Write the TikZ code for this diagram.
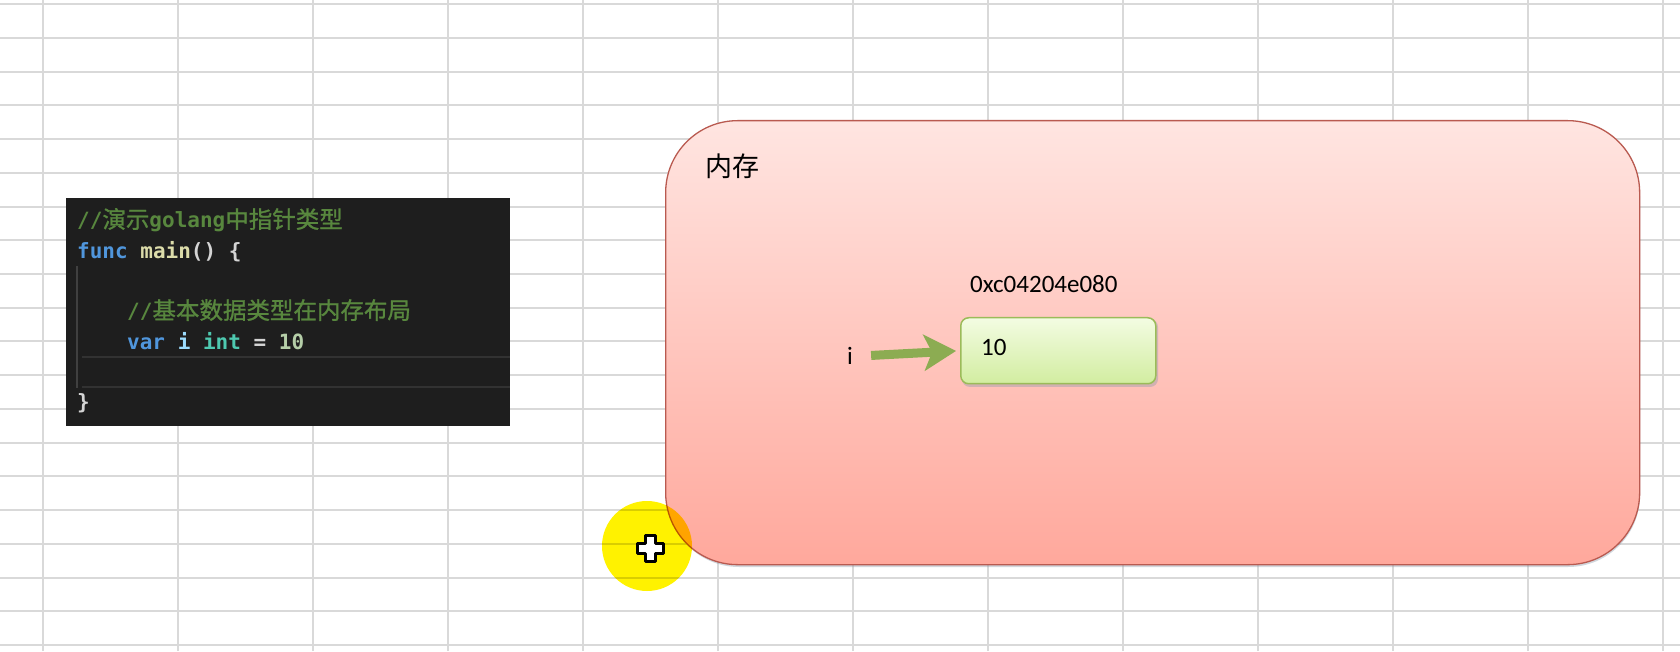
\documentclass[tikz,border=0pt]{standalone}
\usepackage{fontspec}
\setmainfont{Carlito}
\newfontfamily\cjk{Noto Sans CJK SC}
\newfontfamily\cjkb{Noto Sans CJK SC}[FakeBold=1.2]
\newfontfamily\codefont{DejaVu Sans Mono Bold}
\usetikzlibrary{arrows.meta}
\definecolor{gridc}{RGB}{217,217,217}
\definecolor{memtop}{RGB}{255,229,225}
\definecolor{membot}{RGB}{255,168,156}
\definecolor{memborder}{RGB}{185,90,80}
\definecolor{shadowc}{RGB}{140,155,170}
\definecolor{valtop}{RGB}{243,252,226}
\definecolor{valbot}{RGB}{210,237,160}
\definecolor{valborder}{RGB}{155,187,89}
\definecolor{arrowgreen}{RGB}{140,172,82}
\definecolor{codebg}{RGB}{30,30,30}
\definecolor{cmt}{RGB}{88,135,62}
\definecolor{kw}{RGB}{80,150,220}
\definecolor{fn}{RGB}{220,220,170}
\definecolor{varc}{RGB}{156,220,254}
\definecolor{typ}{RGB}{78,201,176}
\definecolor{num}{RGB}{181,206,168}
\definecolor{pun}{RGB}{212,212,212}
\definecolor{hlyellow}{RGB}{255,242,0}
\definecolor{guidec}{RGB}{64,64,64}
\definecolor{curlinec}{RGB}{50,50,50}
\newcommand\cjkc{\cjkb\fontsize{23.5}{23.5}\selectfont}
\tikzset{
  gridline/.style={draw=gridc, line width=2},
  codetxt/.style={anchor=base west, inner sep=0, font=\codefont\fontsize{21}{21}\selectfont},
  memtxt/.style={anchor=base west, inner sep=0, font=\fontsize{25}{25}\selectfont},
  ptr/.style={draw=arrowgreen, line width=9, -{Stealth[length=32, width=36, inset=8]}},
  cursor/.style={draw=black, fill=white, line width=3, line join=round},
}
\begin{document}
\begin{tikzpicture}[x=1pt, y=1pt]
\useasboundingbox (0,0) rectangle (1680,651);
\fill[white] (0,0) rectangle (1680,651);
% spreadsheet grid
\foreach \k in {0,...,12} \draw[gridline] ({43+135*\k},0) -- ({43+135*\k},651);
\foreach \k in {0,...,19} \draw[gridline] (0,{651-4.2-33.73*\k}) -- (1680,{651-4.2-33.73*\k});
% code panel
\node (code) [fill=codebg, minimum width=444, minimum height=228, anchor=north west, inner sep=0] at (66,453) {};
\draw[guidec, line width=1.5] (77,385) -- (77,263);
\draw[curlinec, line width=2] (82,294) -- (510,294) (82,264) -- (510,264);
\node[codetxt] (c1) at (77,423) {\color{cmt}//{\cjkc 演示}golang{\cjkc 中指针类型}};
\node[codetxt] (c2) at (77,392.5) {{\color{kw}func} {\color{fn}main}{\color{pun}() \{}};
\node[codetxt] (c4) at (127,332) {\color{cmt}//{\cjkc 基本数据类型在内存布局}};
\node[codetxt] (c5) at (127,301) {{\color{kw}var} {\color{varc}i} {\color{typ}int} {\color{pun}=} {\color{num}10}};
\node[codetxt] (c7) at (77,241) {\color{pun}\}};
% memory box
\fill[shadowc, opacity=.4, rounded corners=72] (667,84) rectangle (1640,526);
\node (mem) [draw=memborder, line width=1.3, rounded corners=72, top color=memtop, bottom color=membot, minimum width=974, minimum height=444, anchor=north west, inner sep=0] at (665,531) {};
\node (memlabel) [anchor=base west, inner sep=0, font=\cjk\fontsize{27}{27}\selectfont] at (705,474) {内存};
\node (addr) [memtxt] at (970,358) {0xc04204e080};
\fill[shadowc, opacity=.4, rounded corners=8] (962,264) rectangle (1158,332);
\node (val) [draw=valborder, line width=1.5, rounded corners=8, top color=valtop, bottom color=valbot, minimum width=195, minimum height=66, anchor=north west, inner sep=0] at (960,334) {};
\node (ten) [memtxt] at (981,295) {10};
\node (ilabel) [memtxt] at (847,286) {i};
\draw[ptr, shorten <=18, shorten >=4] (ilabel.east) -- (val.west);
% highlight spot with cursor
\begin{scope}[blend mode=multiply]
\node (spot) [circle, fill=hlyellow, minimum size=90, inner sep=0] at (647,105) {};
\end{scope}
\draw[cursor] (645,116) -- (655,116) -- (655,108) -- (663,108) -- (663,98) -- (655,98) -- (655,90) -- (645,90) -- (645,98) -- (637,98) -- (637,108) -- (645,108) -- cycle;
\end{tikzpicture}
\end{document}
